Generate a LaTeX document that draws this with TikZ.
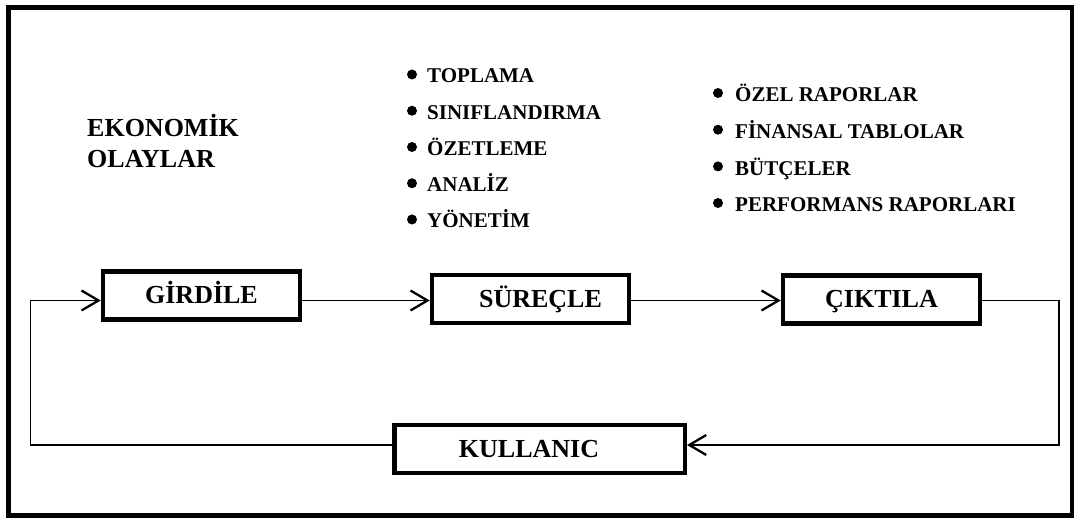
\documentclass[tikz,border=0pt]{standalone}
\usepackage{fontspec}
\setmainfont{Liberation Serif}
\usetikzlibrary{arrows.meta}
\begin{document}
\begin{tikzpicture}[x=1pt,y=-1pt,
  stagebox/.style={draw, line width=4.5pt, rectangle, minimum width=197pt,
    minimum height=48pt, inner sep=0pt,
    font=\bfseries\fontsize{26}{31}\selectfont, text height=17pt, text depth=0pt},
  flow/.style={line width=1.8pt,
    -{Straight Barb[length=17pt,width=20pt,line width=2.3pt]}},
  listitem/.style={anchor=base west, inner sep=0pt,
    font=\bfseries\fontsize{21}{25}\selectfont},
  heading/.style={anchor=base west, inner sep=0pt,
    font=\bfseries\fontsize{26}{31}\selectfont},
  dot/.style={fill=black}
]
\useasboundingbox (0,0) rectangle (1074,518);
% frame
\draw[line width=5pt] (8,7.5) rectangle (1072.5,515);

% heading
\node[heading] (eko1) at (87,137) {EKONOMİK};
\node[heading] (eko2) at (87,168) {OLAYLAR};

% processing steps
\node[listitem] (p1) at (427,83)     {TOPLAMA};
\node[listitem] (p2) at (427,119.25) {SINIFLANDIRMA};
\node[listitem] (p3) at (427,155.5)  {ÖZETLEME};
\node[listitem] (p4) at (427,191.75) {ANALİZ};
\node[listitem] (p5) at (427,228)    {YÖNETİM};
\foreach \n in {p1,p2,p3,p4,p5}
  \fill[dot] ([shift={(-15,-8.5)}]\n.base west) circle (5);

% outputs
\node[listitem] (o1) at (735,102)   {ÖZEL RAPORLAR};
\node[listitem] (o2) at (735,138.7) {FİNANSAL TABLOLAR};
\node[listitem] (o3) at (735,175.4) {BÜTÇELER};
\node[listitem] (o4) at (735,212)   {PERFORMANS RAPORLARI};
\foreach \n in {o1,o2,o3,o4}
  \fill[dot] ([shift={(-17,-9)}]\n.base west) circle (5);

% stages
\node[stagebox] (girdile)  at (201.5,295.5) {GİRDİLE};
\node[stagebox] (surecle)  at (530.5,299)   {\hspace*{20pt}SÜREÇLE};
\node[stagebox] (ciktila)  at (881.5,299.5) {ÇIKTILA};
\node[stagebox, minimum width=290.5pt] (kullanic) at (539.5,449) {KULLANIC\hspace*{21pt}};

% routing points
\coordinate (row)  at (0,300.5);
\coordinate (ne)   at (1059,300.5);
\coordinate (se)   at (1059,445);
\coordinate (sw)   at (30.5,445);
\coordinate (nw)   at (30.5,300.5);

% connectors
\draw[flow] (girdile.east |- row) -- (surecle.west |- row);
\draw[flow] (surecle.east |- row) -- (ciktila.west |- row);
\draw[flow] (ciktila.east |- ne) -- (ne) -- (se) -- (kullanic.east |- se);
\draw[flow] (kullanic.west |- sw) -- (sw) -- (nw) -- (girdile.west |- nw);
\end{tikzpicture}
\end{document}
